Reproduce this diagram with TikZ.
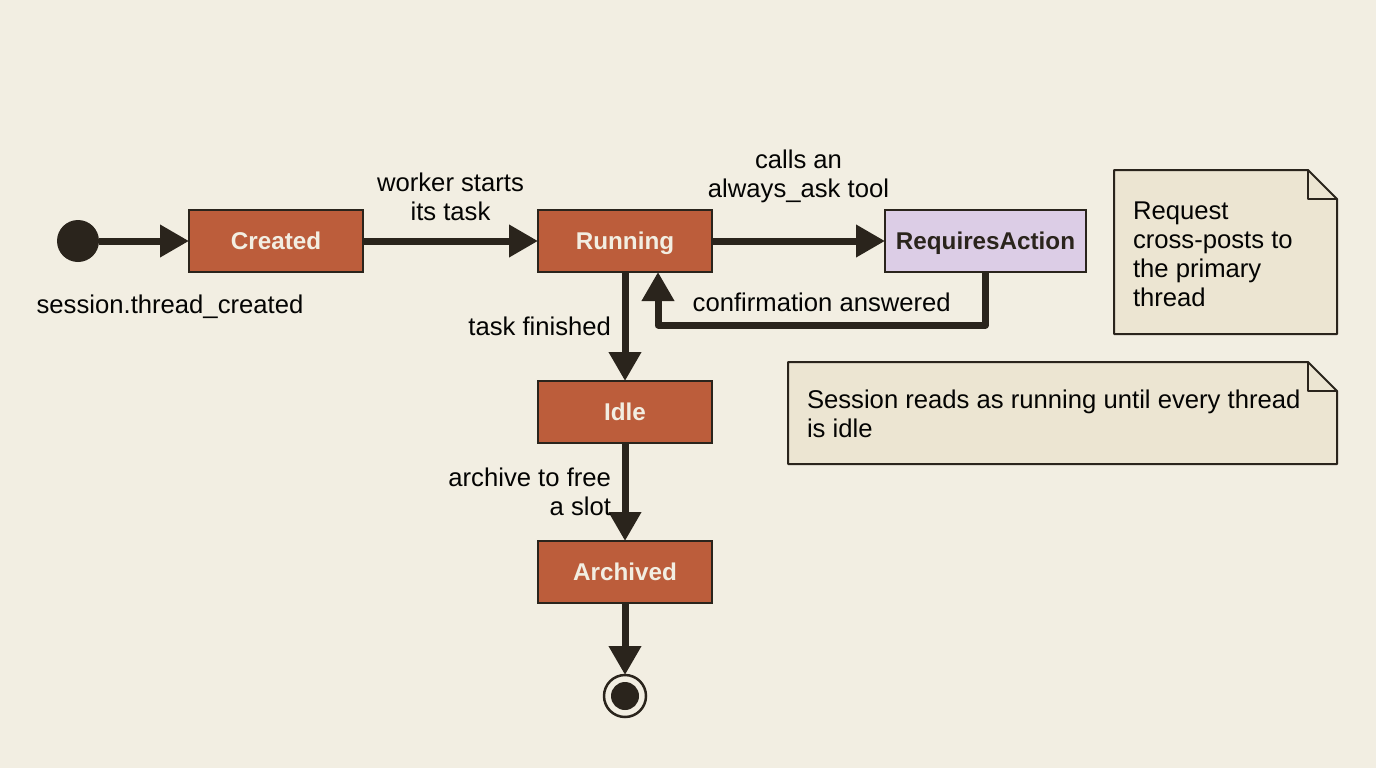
\documentclass[tikz,border=0pt]{standalone}
\usepackage{fontspec}
\setmainfont{Liberation Sans}
\usetikzlibrary{positioning,arrows.meta}

\definecolor{paper}{HTML}{F2EEE2}
\definecolor{ink}{HTML}{2A241C}
\definecolor{rust}{HTML}{BC5D3B}
\definecolor{lilac}{HTML}{DCCDE6}
\definecolor{notefill}{HTML}{ECE5D2}

\begin{document}
\begin{tikzpicture}[
    state/.style={
        rectangle,
        minimum width=3.48cm,
        minimum height=1.24cm,
        draw=ink, line width=0.04cm, outer sep=0pt,
        fill=rust, text=paper,
        text height=0.36cm, text depth=0.02cm,
        font=\fontsize{13.8}{16.5}\selectfont\bfseries
    },
    waiting/.style={state, minimum width=4.02cm, fill=lilac, text=ink},
    dot/.style={circle, fill=ink, inner sep=0pt, outer sep=0pt},
    arrow/.style={-{Triangle[length=0.58cm,width=0.62cm]}, line width=0.14cm, draw=ink, line join=round},
    tag/.style={font=\fontsize{14.6}{16.5}\selectfont, text=black!90!ink, align=center, inner sep=0pt, outer sep=0pt},
    note/.style={
        rectangle, fill=notefill, outer sep=0pt,
        align=flush left, text=black!90!ink, inner sep=0pt,
        font=\fontsize{14.6}{16.5}\selectfont
    },
    fold/.style={draw=ink, line width=0.04cm, line join=round}
]
\useasboundingbox[fill=paper] (0,0) rectangle (27.52,-15.36);

% --- main row ---
\node[dot, minimum size=0.84cm] (start) at (1.56,-4.82) {};
\node[state] (created) at (5.52,-4.82) {Created};
\node[state, right=3.5cm of created] (running) {Running};
\node[waiting, right=3.46cm of running] (requires) {RequiresAction};

% --- going down ---
\node[state, below=2.18cm of running] (idle) {Idle};
\node[state, below=1.96cm of idle] (archived) {Archived};
\node[dot, minimum size=0.84cm, fill=paper, draw=ink, line width=0.05cm, below=1.44cm of archived] (finish) {};
\node[dot, minimum size=0.56cm] (finishdot) at (finish) {};

\node[tag, below=0.66cm of start, xshift=1.84cm] (startlabel) {session.thread\_created};

% --- notes ---
\node[note, minimum width=4.46cm, minimum height=3.28cm, text width=4.46cm-0.76cm] (crosspost) at (24.51,-5.04) {\rule{0pt}{0.45cm}Request\\cross-posts to\\the primary\\thread};
\node[note, minimum width=10.98cm, minimum height=2.04cm, text width=10.98cm-0.76cm] (readsas) at (21.25,-8.26) {\rule{0pt}{0.42cm}Session reads as running until every thread\\is idle};

\fill[paper] ([xshift=-0.58cm]crosspost.north east) -- (crosspost.north east) -- ([yshift=-0.58cm]crosspost.north east) -- cycle;
\draw[fold] (crosspost.north west) -- ([xshift=-0.58cm]crosspost.north east) -- ([yshift=-0.58cm]crosspost.north east) -- (crosspost.south east) -- (crosspost.south west) -- cycle;
\draw[fold] ([xshift=-0.58cm]crosspost.north east) -- ([xshift=-0.58cm,yshift=-0.58cm]crosspost.north east) -- ([yshift=-0.58cm]crosspost.north east);
\fill[paper] ([xshift=-0.58cm]readsas.north east) -- (readsas.north east) -- ([yshift=-0.58cm]readsas.north east) -- cycle;
\draw[fold] (readsas.north west) -- ([xshift=-0.58cm]readsas.north east) -- ([yshift=-0.58cm]readsas.north east) -- (readsas.south east) -- (readsas.south west) -- cycle;
\draw[fold] ([xshift=-0.58cm]readsas.north east) -- ([xshift=-0.58cm,yshift=-0.58cm]readsas.north east) -- ([yshift=-0.58cm]readsas.north east);

% --- arrows ---
\draw[arrow] (start) -- (created);
\draw[arrow] (created) -- node[tag, above=0.41cm]{worker starts\\its task} (running);
\draw[arrow] (running) -- node[tag, above=0.77cm]{calls an\\always\_ask tool} (requires);
\draw[arrow] (requires.south) -- ++(0,-1.06) -| node[tag, pos=0.25, above=0.27cm]{confirmation answered} ([xshift=0.66cm]running.south);
\draw[arrow] (running) -- node[tag, left=0.28cm]{task finished} (idle);
\draw[arrow] (idle) -- node[tag, left=0.28cm, align=flush right]{archive to free\\a slot} (archived);
\draw[arrow] (archived) -- (finish);

\end{tikzpicture}
\end{document}
